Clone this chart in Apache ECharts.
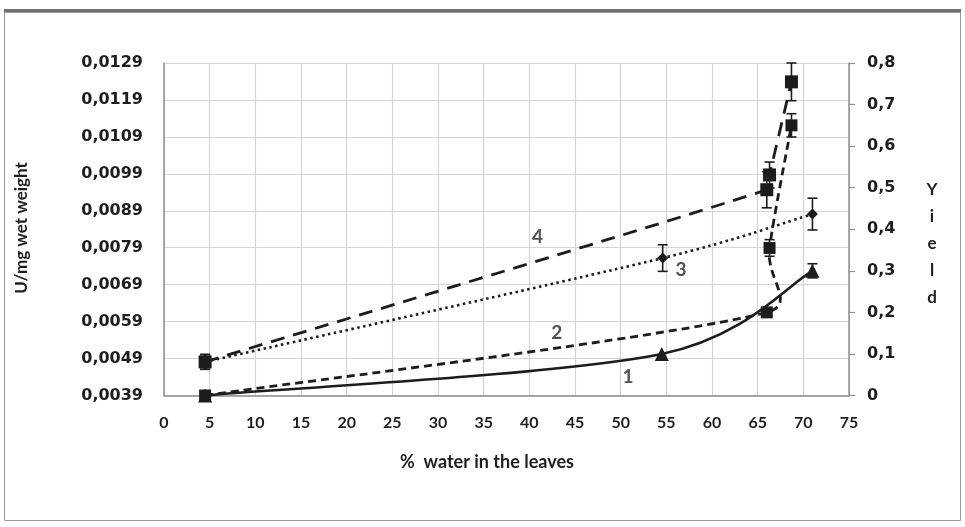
<!DOCTYPE html>
<html>
<head>
<meta charset="utf-8">
<script src="https://cdn.jsdelivr.net/npm/echarts@6/dist/echarts.min.js"></script>
<style>
  html, body { margin: 0; padding: 0; background: #ffffff; }
  #chart { width: 965px; height: 527px; }
</style>
</head>
<body>
<div id="chart"></div>
<script>
// Curve 1: yield (solid line, triangles)
const water1 = [4.5, 54.5, 71];
const yield1 = [0, 0.1, 0.3];
const yieldErr1 = [0, 0, 0.017];

// Curve 2: yield (short dashes, squares)
const water2 = [4.5, 66, 66.3, 68.7];
const yield2 = [0, 0.2, 0.355, 0.65];
const yieldErr2 = [0, 0, 0.02, 0.028];

// Curve 3: activity, U/mg wet weight (dotted, diamonds)
const water3 = [4.5, 54.6, 71];
const activity3 = [0.00481, 0.00762, 0.00881];
const activityErr3 = [0.0002, 0.00036, 0.00043];

// Curve 4: activity, U/mg wet weight (long dashes, squares)
const water4 = [4.5, 66, 66.3, 68.7];
const activity4 = [0.00481, 0.00947, 0.00987, 0.01239];
const activityErr4 = [0.0002, 0.00049, 0.00035, 0.00051];

// Axis ranges and tick spacing
const xTicks = { min: 0, max: 75, step: 5 };
const leftTicks = { min: 0.0039, max: 0.0129, step: 0.001 };
const rightTicks = { min: 0, max: 0.8, step: 0.1 };

// Curve number labels, placed in data units
const curveLabels = [
  { name: '1', x: 50.8, y: 0.0445, axis: 'right' },
  { name: '2', x: 43.0, y: 0.150, axis: 'right' },
  { name: '3', x: 56.6, y: 0.00730, axis: 'left' },
  { name: '4', x: 40.9, y: 0.00819, axis: 'left' }
];

const INK = '#1c1c1c';
const pairs = (xs, ys) => xs.map((x, i) => [x, ys[i]]);

// Spreadsheet-style smoothed polyline: Bezier control points at 1/6 of the
// neighbour chord, capped at half of the segment length.
function smoothPath(pts) {
  const dist = (a, b) => Math.hypot(b[0] - a[0], b[1] - a[1]);
  let d = 'M' + pts[0][0] + ' ' + pts[0][1];
  for (let i = 0; i < pts.length - 1; i++) {
    const p0 = pts[i - 1] || pts[i];
    const p1 = pts[i];
    const p2 = pts[i + 1];
    const p3 = pts[i + 2] || pts[i + 1];
    const d12 = dist(p1, p2), d02 = dist(p0, p2), d13 = dist(p1, p3);
    const f1 = (d02 / 6 < d12 / 2) ? 1 / 6 : (d02 > 0 ? d12 / (2 * d02) : 0);
    const f2 = (d13 / 6 < d12 / 2) ? 1 / 6 : (d13 > 0 ? d12 / (2 * d13) : 0);
    const c1 = [p1[0] + f1 * (p2[0] - p0[0]), p1[1] + f1 * (p2[1] - p0[1])];
    const c2 = [p2[0] - f2 * (p3[0] - p1[0]), p2[1] - f2 * (p3[1] - p1[1])];
    d += ' C' + c1[0] + ' ' + c1[1] + ' ' + c2[0] + ' ' + c2[1] + ' ' + p2[0] + ' ' + p2[1];
  }
  return d;
}

function curve(xs, ys, yAxisIndex, width, dash) {
  return {
    type: 'custom',
    yAxisIndex: yAxisIndex,
    data: pairs(xs, ys),
    encode: { x: 0, y: 1 },
    z: 3,
    silent: true,
    renderItem: function (params, api) {
      if (params.dataIndex !== 0) return null;
      const pts = xs.map((x, i) => api.coord([x, ys[i]]));
      return {
        type: 'path',
        shape: { pathData: smoothPath(pts) },
        style: { fill: null, stroke: INK, lineWidth: width, lineDash: dash, lineCap: 'butt' }
      };
    }
  };
}

function markers(xs, ys, yAxisIndex, symbol, size) {
  return {
    type: 'scatter',
    yAxisIndex: yAxisIndex,
    data: pairs(xs, ys),
    symbol: symbol,
    symbolSize: size,
    itemStyle: { color: INK, opacity: 1 },
    z: 4,
    silent: true
  };
}

function errorBars(xs, ys, es, yAxisIndex) {
  const data = [];
  xs.forEach((x, i) => { if (es[i] > 0) data.push([x, ys[i] - es[i], ys[i] + es[i]]); });
  return {
    type: 'custom',
    yAxisIndex: yAxisIndex,
    data: data,
    encode: { x: 0, y: [1, 2] },
    z: 5,
    silent: true,
    renderItem: function (params, api) {
      const x = api.value(0);
      const lo = api.coord([x, api.value(1)]);
      const hi = api.coord([x, api.value(2)]);
      const w = 5;
      const st = { stroke: INK, lineWidth: 1.6 };
      return {
        type: 'group',
        children: [
          { type: 'line', shape: { x1: lo[0], y1: lo[1], x2: hi[0], y2: hi[1] }, style: st },
          { type: 'line', shape: { x1: lo[0] - w, y1: lo[1], x2: lo[0] + w, y2: lo[1] }, style: st },
          { type: 'line', shape: { x1: hi[0] - w, y1: hi[1], x2: hi[0] + w, y2: hi[1] }, style: st }
        ]
      };
    }
  };
}

function labelSeries(axis, yAxisIndex) {
  return {
    type: 'scatter',
    yAxisIndex: yAxisIndex,
    symbolSize: 1,
    itemStyle: { color: 'rgba(0,0,0,0)' },
    silent: true,
    z: 6,
    data: curveLabels.filter(l => l.axis === axis).map(l => ({ value: [l.x, l.y], name: l.name })),
    label: {
      show: true,
      position: 'inside',
      formatter: p => p.name,
      fontFamily: 'Lato',
      fontWeight: 'bold',
      fontSize: 19,
      color: '#262626'
    }
  };
}

const chart = echarts.init(document.getElementById('chart'), null, { renderer: 'canvas' });

const axisLabelY = {
  fontFamily: 'DejaVu Sans',
  fontWeight: 'bold',
  fontSize: 16,
  color: '#1e1e1e'
};

chart.setOption({
  animation: false,
  backgroundColor: '#ffffff',
  grid: { left: 164, right: 116, top: 63, bottom: 131.5, containLabel: false },
  xAxis: {
    type: 'value',
    min: xTicks.min, max: xTicks.max, interval: xTicks.step,
    axisLine: { show: true, onZero: false, lineStyle: { color: '#8f8f8f', width: 1.5 } },
    axisTick: { show: false },
    splitLine: { show: true, lineStyle: { color: '#d4d4d4', width: 1.2 } },
    axisLabel: {
      margin: 19,
      fontFamily: 'Lato', fontWeight: 'bold', fontSize: 16, color: '#1e1e1e'
    }
  },
  yAxis: [
    {
      type: 'value',
      min: leftTicks.min, max: leftTicks.max, interval: leftTicks.step,
      axisLine: { show: true, lineStyle: { color: '#8f8f8f', width: 1.5 } },
      axisTick: { show: false },
      splitLine: { show: true, lineStyle: { color: '#d4d4d4', width: 1.2 } },
      axisLabel: Object.assign({
        margin: 21,
        formatter: v => v.toFixed(4).replace('.', ',')
      }, axisLabelY)
    },
    {
      type: 'value',
      position: 'right',
      min: rightTicks.min, max: rightTicks.max, interval: rightTicks.step,
      axisLine: { show: true, lineStyle: { color: '#8f8f8f', width: 1.5 } },
      axisTick: { show: true, inside: false, length: 6, lineStyle: { color: '#8f8f8f', width: 1.2 } },
      splitLine: { show: false },
      axisLabel: Object.assign({
        margin: 18,
        formatter: v => (Math.abs(v) < 1e-9 ? '0' : v.toFixed(1).replace('.', ','))
      }, axisLabelY)
    }
  ],
  graphic: [
    { type: 'rect', shape: { x: 4, y: 9, width: 957, height: 4 }, style: { fill: '#6e6e6e' }, silent: true },
    { type: 'rect', shape: { x: 4.5, y: 12.5, width: 956, height: 508 }, style: { fill: 'none', stroke: '#9a9a9a', lineWidth: 1 }, silent: true },
    {
      type: 'text', x: 22, y: 228, rotation: Math.PI / 2,
      style: {
        text: 'U/mg wet weight', textAlign: 'center', textVerticalAlign: 'middle',
        font: 'bold 17px Lato', fill: '#1e1e1e'
      }
    },
    {
      type: 'text', x: 487, y: 462,
      style: {
        text: '%  water in the leaves', textAlign: 'center', textVerticalAlign: 'middle',
        font: 'bold 18px Lato', fill: '#1e1e1e'
      }
    },
    {
      type: 'text', x: 932, y: 176,
      style: {
        text: 'Y\ni\ne\nl\nd', textAlign: 'center', lineHeight: 27,
        font: 'bold 17px Lato', fill: '#1e1e1e'
      }
    }
  ],
  series: [
    curve(water1, yield1, 1, 2.6, null),
    curve(water2, yield2, 1, 2.8, [8, 5]),
    curve(water3, activity3, 0, 2.6, [2.5, 3.5]),
    curve(water4, activity4, 0, 2.8, [14, 9]),
    markers(water1, yield1, 1, 'triangle', 14),
    markers(water2, yield2, 1, 'rect', 12),
    markers(water3, activity3, 0, 'diamond', 11),
    markers(water4, activity4, 0, 'rect', 13),
    errorBars(water1, yield1, yieldErr1, 1),
    errorBars(water2, yield2, yieldErr2, 1),
    errorBars(water3, activity3, activityErr3, 0),
    errorBars(water4, activity4, activityErr4, 0),
    labelSeries('right', 1),
    labelSeries('left', 0)
  ]
});
</script>
</body>
</html>
